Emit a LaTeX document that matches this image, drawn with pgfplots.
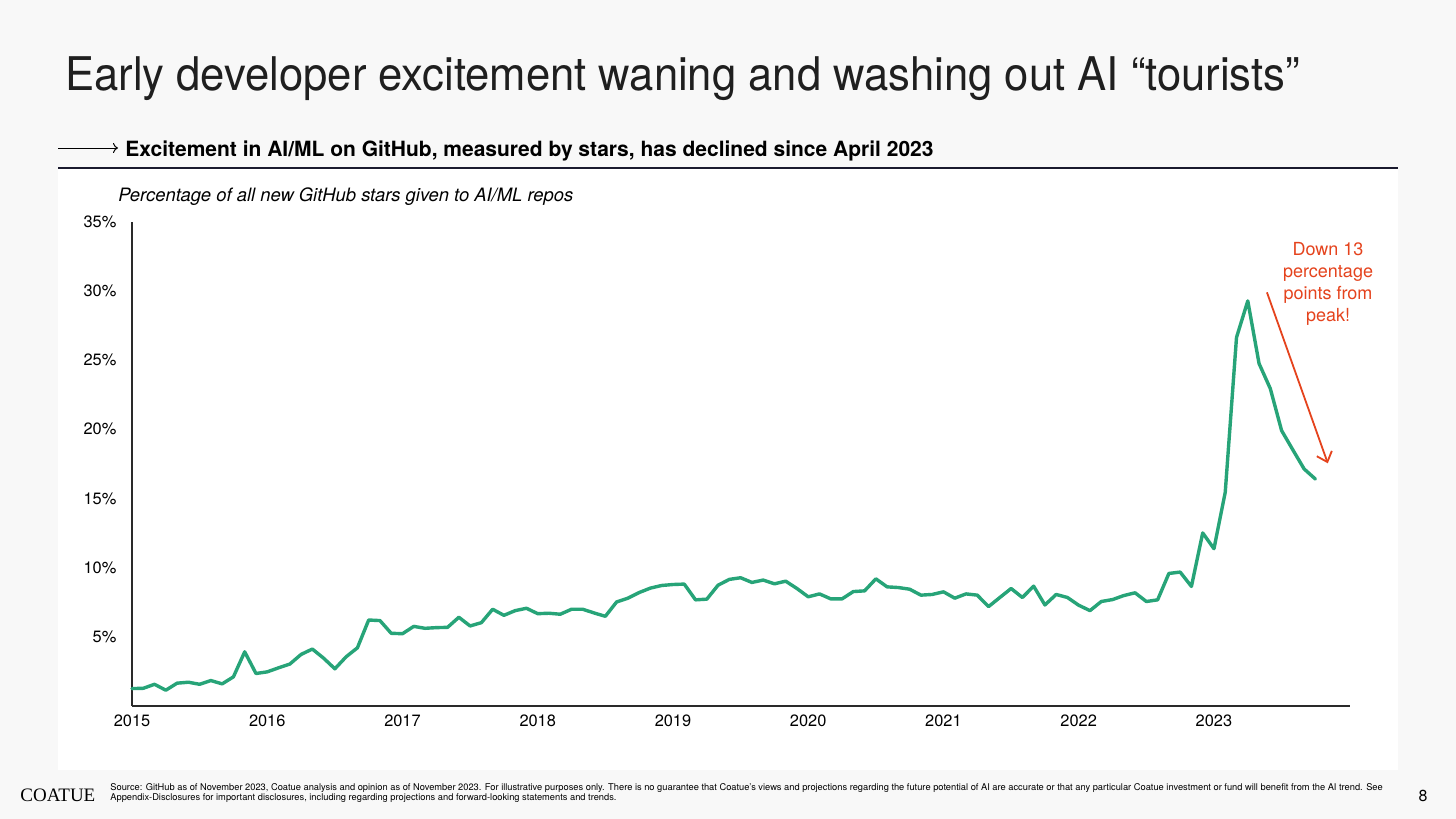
\documentclass[border=0pt]{standalone}
\usepackage{fontspec}
\setmainfont{TeX Gyre Heros}
\newfontfamily\serifname{Liberation Serif}
\usepackage{pgfplots}
\pgfplotsset{compat=1.18}
\usetikzlibrary{arrows.meta}
\definecolor{bg}{HTML}{F8F8F8}
\definecolor{linegreen}{HTML}{27A478}
\definecolor{annred}{HTML}{E5431D}
\definecolor{navy}{HTML}{1A1A2E}
\definecolor{axisgray}{HTML}{2A2A2A}

\pgfplotstableread{
m v
0 1.24
1 1.26
2 1.55
3 1.12
4 1.63
5 1.70
6 1.55
7 1.82
8 1.58
9 2.09
10 3.90
11 2.33
12 2.45
13 2.74
14 3.01
15 3.71
16 4.10
17 3.44
18 2.67
19 3.54
20 4.19
21 6.20
22 6.16
23 5.24
24 5.21
25 5.74
26 5.60
27 5.65
28 5.67
29 6.40
30 5.77
31 6.01
32 6.98
33 6.54
34 6.88
35 7.05
36 6.66
37 6.69
38 6.62
39 6.98
40 6.98
41 6.71
42 6.47
43 7.51
44 7.78
45 8.19
46 8.51
47 8.70
48 8.77
49 8.80
50 7.66
51 7.71
52 8.72
53 9.14
54 9.26
55 8.92
56 9.09
57 8.82
58 9.01
59 8.48
60 7.88
61 8.09
62 7.73
63 7.73
64 8.26
65 8.31
66 9.18
67 8.60
68 8.55
69 8.43
70 8.00
71 8.05
72 8.24
73 7.78
74 8.09
75 8.00
76 7.17
77 7.83
78 8.48
79 7.83
80 8.65
81 7.29
82 8.05
83 7.83
84 7.27
85 6.88
86 7.54
87 7.68
88 7.97
89 8.17
90 7.54
91 7.66
92 9.57
93 9.67
94 8.63
95 12.50
96 11.36
97 15.45
98 26.65
99 29.29
100 24.76
101 22.94
102 19.91
103 18.51
104 17.13
105 16.40
}\datatable

\begin{document}
\begin{tikzpicture}
% slide background and white panel
\fill[bg] (0pt,0pt) rectangle (728pt,-409.5pt);
\fill[white] (29pt,-84.5pt) rectangle (699pt,-385pt);
\draw[navy, line width=1pt] (29pt,-84pt) -- (699pt,-84pt);

% title
\node[anchor=base west, inner sep=0, xscale=0.94, font=\fontsize{23.2}{27}\selectfont, text=black!88] at (32.5pt,-45pt) {Early developer excitement waning and washing out AI “tourists”};

% subtitle with arrow
\draw[line width=0.5pt, -{To[length=2.5pt,width=5pt]}] (29pt,-74pt) -- (59pt,-74pt);
\node[anchor=base west, inner sep=0, font=\fontsize{10.5}{12}\bfseries\selectfont] at (62.5pt,-78pt) {Excitement in AI/ML on GitHub, measured by stars, has declined since April 2023};

% y label
\node[anchor=base west, inner sep=0, font=\fontsize{9.2}{11}\itshape\selectfont] at (59pt,-100.5pt) {Percentage of all new GitHub stars given to AI/ML repos};

\begin{axis}[
  at={(66pt,-352.85pt)}, anchor=south west,
  scale only axis,
  width=609pt, height=241.85pt,
  xmin=0, xmax=108.07,
  ymin=0, ymax=35,
  axis x line*=bottom, axis y line*=left,
  axis line style={-, axisgray, line width=0.8pt},
  major tick length=0pt,
  xtick={0,12,24,36,48,60,72,84,96},
  xticklabels={2015,2016,2017,2018,2019,2020,2021,2022,2023},
  ytick={5,10,15,20,25,30,35},
  yticklabels={5\%,10\%,15\%,20\%,25\%,30\%,35\%},
  tick label style={font=\fontsize{8.2}{10}\selectfont},
  /pgf/number format/assume math mode=true,
  yticklabel style={xshift=-4.3pt},
  xticklabel style={yshift=-1pt},
  clip=false,
]
\addplot[linegreen, line width=1.7pt, line join=round, line cap=round] table[x=m, y=v] {\datatable};
\draw[annred, line width=0.9pt, -{Straight Barb[length=4.5pt,width=8pt]}] (axis cs:100.7,29.91) -- (axis cs:106.1,17.54);
\end{axis}

% annotation (base = last line)
\node[anchor=base, inner sep=0, align=center, text=annred, font=\fontsize{9}{10.9}\selectfont] at (664pt,-160.5pt) {Down 13\\percentage\\points from\\peak!};

% footer
\node[anchor=base west, inner sep=0, font=\serifname\fontsize{9.5}{11}\selectfont] at (10pt,-400.5pt) {COATUE};
\node[anchor=north west, inner sep=0, align=left, font=\fontsize{4.65}{5}\selectfont] at (55pt,-391.5pt) {Source: GitHub as of November 2023, Coatue analysis and opinion as of November 2023. For illustrative purposes only. There is no guarantee that Coatue's views and projections regarding the future potential of AI are accurate or that any particular Coatue investment or fund will benefit from the AI trend. See\\Appendix-Disclosures for important disclosures, including regarding projections and forward-looking statements and trends.};
\node[anchor=base, inner sep=0, font=\fontsize{8}{10}\selectfont] at (711.5pt,-400.5pt) {8};
\end{tikzpicture}
\end{document}
